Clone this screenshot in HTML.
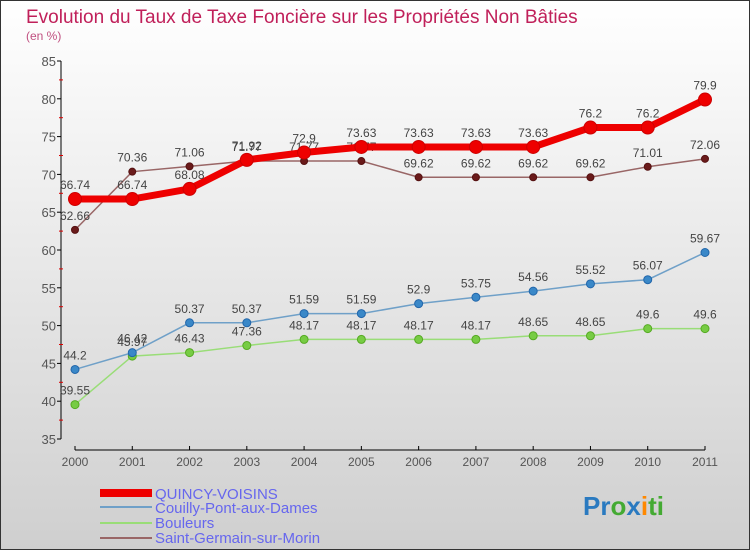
<!DOCTYPE html>
<html><head><meta charset="utf-8"><style>
body{margin:0;width:750px;height:550px;overflow:hidden;font-family:"Liberation Sans",sans-serif}
</style></head><body>
<svg id="chart" width="750" height="550" xmlns="http://www.w3.org/2000/svg">
<defs>
<linearGradient id="bg" x1="0" y1="0" x2="0" y2="1"><stop offset="0" stop-color="#ffffff"/><stop offset="1" stop-color="#cfcfcf"/></linearGradient>
</defs>
<rect x="0.5" y="0.5" width="749" height="549" fill="url(#bg)" stroke="#333"/>
<text x="26" y="23" font-size="19" fill="#c0205a">Evolution du Taux de Taxe Foncière sur les Propriétés Non Bâties</text>
<text x="26" y="40" font-size="12" fill="#c05080">(en %)</text>
<g id="axes"></g>
<g id="series"></g>
<g id="legend">
<rect x="100" y="489" width="52" height="8" fill="#ee0000"/>
<text x="155" y="499" font-size="15" fill="#6666ee">QUINCY-VOISINS</text>
<rect x="100" y="506" width="52" height="2" fill="#6fa0c8"/>
<text x="155" y="513" font-size="15" fill="#6666ee">Couilly-Pont-aux-Dames</text>
<rect x="100" y="522" width="52" height="2" fill="#99dd77"/>
<text x="155" y="528" font-size="15" fill="#6666ee">Bouleurs</text>
<rect x="100" y="537" width="52" height="2" fill="#996666"/>
<text x="155" y="543" font-size="15" fill="#6666ee">Saint-Germain-sur-Morin</text>
</g>
<text x="583" y="515" font-size="26" font-weight="bold"><tspan fill="#2a7ac0">Pr</tspan><tspan fill="#44aa33">o</tspan><tspan fill="#2a7ac0">x</tspan><tspan fill="#ff8800">i</tspan><tspan fill="#44aa33">ti</tspan></text>
</svg>
<script>
const years=[2000,2001,2002,2003,2004,2005,2006,2007,2008,2009,2010,2011];
const yTicks=[35,40,45,50,55,60,65,70,75,80,85];
const quincy=[66.74,66.74,68.08,71.92,72.9,73.63,73.63,73.63,73.63,76.2,76.2,79.9];
const couilly=[44.2,46.42,50.37,50.37,51.59,51.59,52.9,53.75,54.56,55.52,56.07,59.67];
const bouleurs=[39.55,45.97,46.43,47.36,48.17,48.17,48.17,48.17,48.65,48.65,49.6,49.6];
const saintGermain=[62.66,70.36,71.06,71.77,71.77,71.77,69.62,69.62,69.62,69.62,71.01,72.06];
const NS='http://www.w3.org/2000/svg';
function xs(i){return 75+i*(630/(years.length-1));}
function ys(v){return 61+(85-v)*7.56;}
function mk(tag,attrs,parent){const e=document.createElementNS(NS,tag);for(const k in attrs)e.setAttribute(k,attrs[k]);parent.appendChild(e);return e;}
const ax=document.getElementById('axes');
let l=mk('line',{x1:61,y1:ys(85),x2:61,y2:ys(35),stroke:'#000'},ax);


yTicks.forEach(v=>{
 mk('line',{x1:57,x2:61,y1:ys(v),y2:ys(v),stroke:'#000'},ax);
 if(v<85)mk('line',{x1:59,x2:63,y1:ys(v+2.5),y2:ys(v+2.5),stroke:'#d00'},ax);
 const t=mk('text',{x:56,y:ys(v)+5,'text-anchor':'end','font-size':13,fill:'#555'},ax);
 t.textContent=v;
 
 
});
l=mk('line',{x1:xs(0),y1:450,x2:xs(11),y2:450,stroke:'#000'},ax);


years.forEach((y,i)=>{
 mk('line',{x1:xs(i),x2:xs(i),y1:446,y2:450,stroke:'#000'},ax);
 const t=mk('text',{x:xs(i),y:466,'text-anchor':'middle','font-size':12,fill:'#555'},ax);
 t.textContent=y;
 
 
});
const sg=document.getElementById('series');
function draw(data,name,color,w,r,fill,stroke){
 const g=mk('g',{},sg);
 
 
 const p=mk('polyline',{points:data.map((v,i)=>xs(i)+','+ys(v)).join(' '),fill:'none',stroke:color,'stroke-width':w},g);
 
 
 data.forEach((v,i)=>{
  const c=mk('circle',{cx:xs(i),cy:ys(v),r:r,fill:fill,stroke:stroke},g);
  
  
  const t=mk('text',{x:xs(i),y:ys(v)-10,'text-anchor':'middle','font-size':12,fill:'#444'},g);
  t.textContent=v;
  
  
 });
}
draw(bouleurs,'bouleurs','#99dd77',1.5,4,'#77cc44','#55aa22');
draw(couilly,'couilly','#6fa0c8',1.5,4,'#3a88c8','#2266aa');
draw(saintGermain,'saint-germain','#996666',1.5,3.5,'#6a1a1a','#551111');
draw(quincy,'quincy','#ee0000',7,6.5,'#ee0000','#cc0000');
</script>
</body></html>
